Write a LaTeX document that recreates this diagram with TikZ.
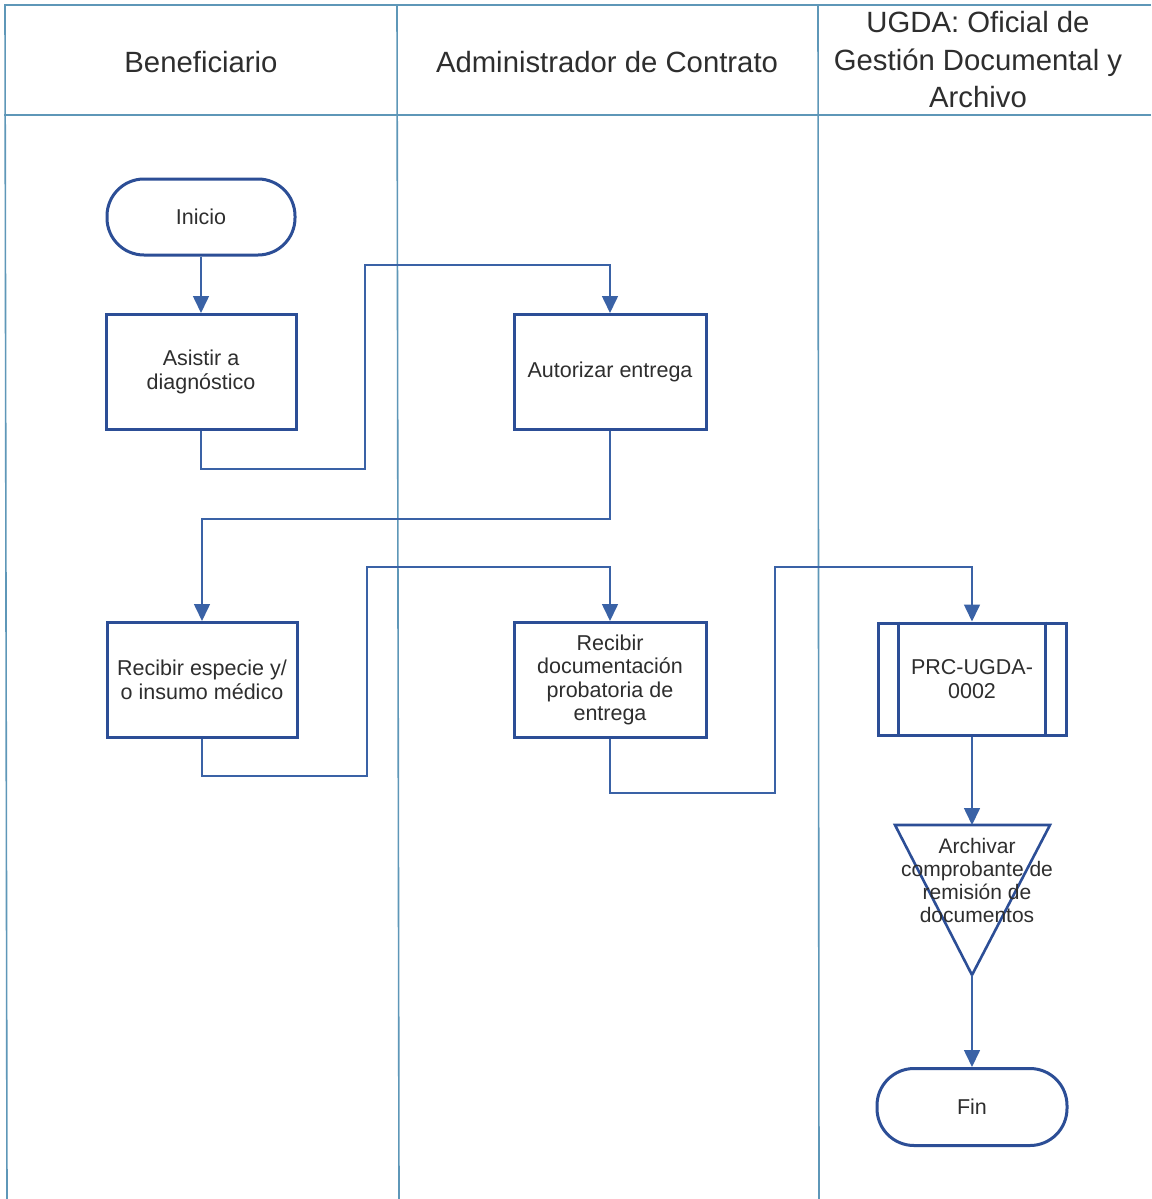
\documentclass[tikz,border=0pt]{standalone}
\usepackage{fontspec}
\setmainfont{Liberation Sans}
\usetikzlibrary{arrows.meta}
\definecolor{lane}{HTML}{5E97B8}
\definecolor{shapeblue}{HTML}{2C4E96}
\definecolor{linkblue}{HTML}{3A62A6}
\definecolor{ink}{HTML}{2E2E2E}
\tikzset{
  lanerule/.style={draw=lane, line width=1.6pt},
  header/.style={text=ink, font=\fontsize{29.3}{37.5}\selectfont, align=center},
  stepbox/.style={draw=shapeblue, line width=3pt, fill=white, rectangle,
    minimum width=190pt, minimum height=115pt, text=ink, align=center,
    font=\fontsize{21.5}{23.5}\selectfont, inner sep=0pt},
  terminal/.style={draw=shapeblue, line width=3pt, fill=white, rectangle,
    rounded corners=37pt, minimum width=188pt, minimum height=76pt, text=ink,
    font=\fontsize{21.5}{23.5}\selectfont, inner sep=0pt},
  flow/.style={draw=linkblue, line width=1.6pt,
    -{Triangle[width=16pt,length=17pt]}},
}
\begin{document}
\begin{tikzpicture}[x=1pt, y=-1pt]
\useasboundingbox (0,0) rectangle (1151,1199);
\fill[white] (0,0) rectangle (1151,1199);

% swimlane frame
\draw[lanerule] (4,5) -- (1151,5);
\draw[lanerule] (4,115) -- (1151,115);
\draw[lanerule] (5,5) -- (7,1199);
\draw[lanerule] (397,5) -- (399,1199);
\draw[lanerule] (818,5) -- (819,1199);

% lane titles
\node[header] (h1) at (201,62) {Beneficiario};
\node[header] (h2) at (607,62) {Administrador de Contrato};
\node[header] (h3) at (978,60) {UGDA: Oficial de\\Gestión Documental y\\Archivo};

% steps
\node[terminal] (inicio) at (201,217) {Inicio};
\node[stepbox] (asistir) at (201,372) {Asistir a\\diagnóstico};
\node[stepbox, minimum width=192pt] (autorizar) at (610,372) {Autorizar entrega};
\node[stepbox] (especie) at (202,680) {Recibir especie y/\\o insumo médico};
\node[stepbox, minimum width=192pt] (docu) at (610,680) {Recibir\\documentación\\probatoria de\\entrega};
\node[stepbox, minimum width=188pt, minimum height=112pt] (prc) at (972,679) {PRC-UGDA-\\0002};
\draw[shapeblue, line width=3pt]
  ([xshift=22pt]prc.north west) -- ([xshift=22pt]prc.south west)
  ([xshift=-22pt]prc.north east) -- ([xshift=-22pt]prc.south east);

% archive triangle
\coordinate (archtop) at (972,825);
\coordinate (archapex) at (972,975);
\draw[shapeblue, line width=2.6pt, fill=white, line join=miter]
  (895,825) -- (1050,825) -- (archapex) -- cycle;
\node[text=ink, align=center, font=\fontsize{21}{23}\selectfont] (archivar) at (977,880)
  {Archivar\\comprobante de\\remisión de\\documentos};

\node[terminal, minimum width=190pt, minimum height=77pt] (fin) at (972,1107) {Fin};

% connectors
\draw[flow] (inicio.south) -- (asistir.north);
\draw[flow] (asistir.south) -- ++(0,38) -| (365,265) -| (autorizar.north);
\draw[flow] (autorizar.south) -- ++(0,88) -| (especie.north);
\draw[flow] (especie.south) -- ++(0,37) -| (367,567) -| (docu.north);
\draw[flow] (docu.south) -- ++(0,54) -| (775,567) -| (prc.north);
\draw[flow] (prc.south) -- (archtop);
\draw[flow] (archapex) -- (fin.north);
\end{tikzpicture}
\end{document}
